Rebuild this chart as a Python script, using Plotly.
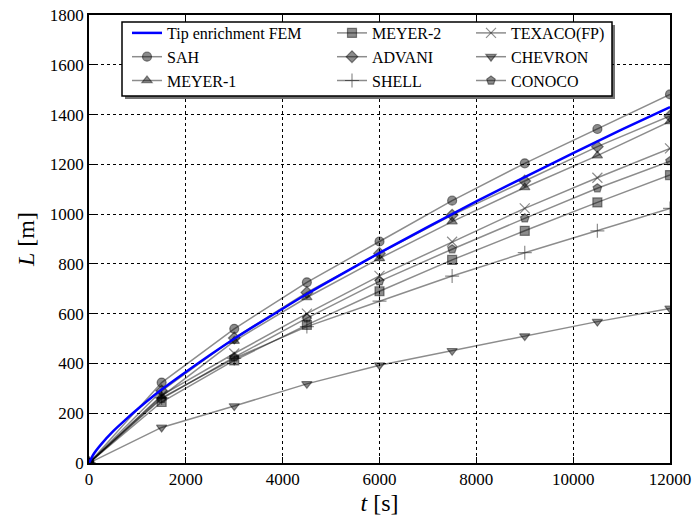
import plotly.graph_objects as go

t_fem = [0, 100, 250, 500, 750, 1000, 1500, 2000, 3000, 4000, 4500, 5000, 6000, 7000, 8000, 9000, 10000, 11000, 12000]
L_fem = [0, 37, 75, 128, 173, 216, 295, 366, 499, 620, 679, 735, 844, 949, 1051, 1149, 1245, 1339, 1430]

t_pts = [0, 1500, 3000, 4500, 6000, 7500, 9000, 10500, 12000]
L_sah = [0, 323, 539, 726, 890, 1054, 1204, 1342, 1481]
L_meyer1 = [0, 268, 490, 665, 822, 970, 1107, 1235, 1372]
L_meyer2 = [0, 245, 412, 555, 690, 816, 933, 1047, 1157]
L_advani = [0, 290, 502, 685, 842, 996, 1133, 1271, 1394]
L_shell = [0, 262, 420, 548, 650, 751, 845, 933, 1023]
L_texaco = [0, 272, 440, 600, 752, 889, 1023, 1146, 1264]
L_chevron = [0, 143, 229, 318, 393, 451, 510, 568, 621]
L_conoco = [0, 258, 425, 582, 730, 859, 983, 1104, 1213]

series = [
    ("SAH", L_sah, "circle", "legend", 2),
    ("MEYER-1", L_meyer1, "triangle-up", "legend", 3),
    ("MEYER-2", L_meyer2, "square", "legend2", 1),
    ("ADVANI", L_advani, "diamond", "legend2", 2),
    ("SHELL", L_shell, "cross-thin-open", "legend2", 3),
    ("TEXACO(FP)", L_texaco, "x-thin-open", "legend3", 1),
    ("CHEVRON", L_chevron, "triangle-down", "legend3", 2),
    ("CONOCO", L_conoco, "pentagon", "legend3", 3),
]

gray = "rgba(0,0,0,0.45)"
fig = go.Figure()

for name, ys, sym, leg, rank in series:
    size = 9
    if sym in ("x-thin-open", "cross-thin-open"):
        size = 10
    fig.add_trace(go.Scatter(
        x=t_pts, y=ys, mode="lines+markers", name=name, legend=leg, legendrank=rank,
        line=dict(color=gray, width=1.5),
        marker=dict(symbol=sym, size=size, color=gray,
                    line=dict(color=gray, width=1.2)),
    ))

fig.add_trace(go.Scatter(x=t_fem, y=L_fem, mode="lines", name="Tip enrichment FEM",
                         legend="legend", legendrank=1,
                         line=dict(color="#0000ff", width=2.5), line_shape="spline"))

font = "Liberation Serif"
axis_common = dict(
    showline=True, linecolor="black", linewidth=1.5, mirror="ticks",
    ticks="inside", ticklen=6, tickcolor="black", automargin=False,
    showgrid=True, gridcolor="black", griddash="dot", gridwidth=1,
    zeroline=False, tickfont=dict(family=font, size=17, color="black"),
)

W = 581.0
H = 448.0
def px(xp):
    return (xp - 89) / W
def py(yp):
    return (463 - yp) / H

leg_common = dict(orientation="v", yanchor="top", xanchor="left",
                  bgcolor="rgba(0,0,0,0)", borderwidth=0,
                  font=dict(family=font, size=16, color="black"),
                  itemwidth=30, tracegroupgap=0)

fig.update_layout(
    width=693, height=523,
    margin=dict(l=89, r=23, t=15, b=60),
    paper_bgcolor="white", plot_bgcolor="white",
    font=dict(family=font, color="black"),
    xaxis=dict(range=[0, 12000], dtick=2000, tick0=0, tickformat="d",
               title=dict(text="<i>t</i> [s]", font=dict(size=24), standoff=6), **axis_common),
    yaxis=dict(range=[0, 1800], dtick=200, tick0=0, tickformat="d",
               title=dict(text="<i>L</i> [m]", font=dict(size=24), standoff=8), **axis_common),
    showlegend=True,
    legend=dict(x=px(127), y=py(16), **leg_common),
    legend2=dict(x=px(332), y=py(16), **leg_common),
    legend3=dict(x=px(471), y=py(16), **leg_common),
    shapes=[
        dict(type="rect", xref="paper", yref="paper", layer="above",
             x0=px(125), x1=px(615), y0=py(99), y1=py(25),
             line=dict(width=0), fillcolor="rgba(0,0,0,0.55)"),
        dict(type="rect", xref="paper", yref="paper", layer="above",
             x0=px(122), x1=px(612), y0=py(96), y1=py(22),
             line=dict(color="black", width=1.5), fillcolor="white"),
    ],
)
fig.write_html("out.html")
